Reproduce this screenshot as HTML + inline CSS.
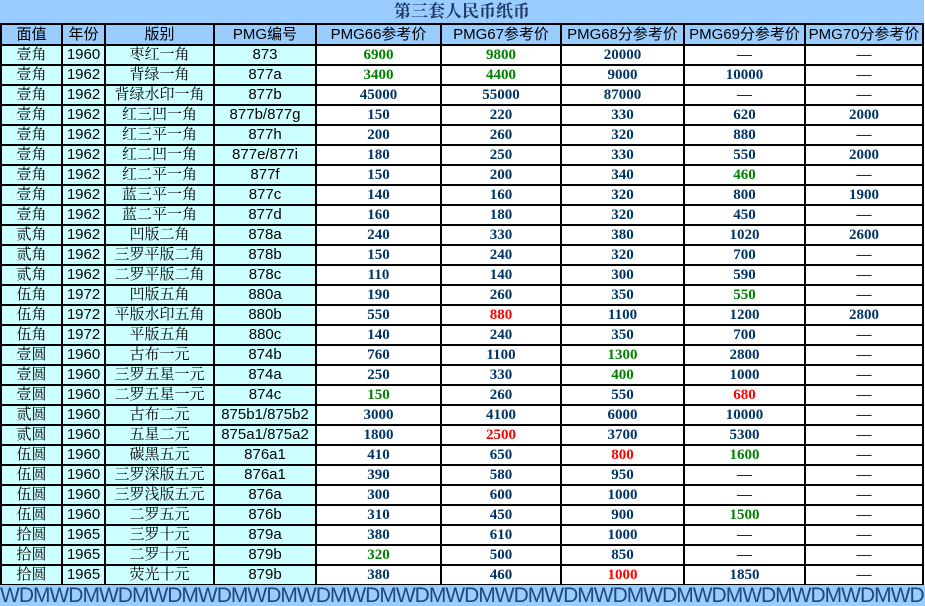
<!DOCTYPE html>
<html><head><meta charset="utf-8"><style>
body{margin:0;background:#fff;width:925px;height:606px;overflow:hidden;position:relative}
.g{position:absolute;left:0;top:0;display:grid;background:#000;padding:0 2px 2px 2px;gap:2px;
grid-template-columns:59px 41px 107px 100px 123px 118px 121px 119px 116px;
grid-template-rows:23px 19px repeat(27,18px)}
.g>div{text-align:center;line-height:18px;white-space:nowrap;overflow:hidden;background:#fff}
.t{grid-column:1/-1;background:#99ccff!important;font:bold 17px "Liberation Serif","Noto Serif CJK SC",serif;color:#1f3864;line-height:23px!important;margin:0 -2px}
.h{background:#99ccff!important;font:15px "Liberation Sans","Noto Sans CJK SC",sans-serif;line-height:19px!important}
.c{background:#ccffff!important;font:15px "Liberation Sans","Noto Serif CJK SC",serif;color:#000}
.n{font:bold 15px "Liberation Serif",serif;color:#003366}
.gr{font:bold 15px "Liberation Serif",serif;color:#008000}
.r{font:bold 15px "Liberation Serif",serif;color:#ff0000}
.band{position:absolute;left:0;top:585px;width:925px;height:21px;background:#99ccff;font:21px "Liberation Sans",sans-serif;color:#1f497d;line-height:22px;white-space:nowrap;overflow:hidden;letter-spacing:-1px}
</style></head><body>
<div class="g">
<div class="t">第三套人民币纸币</div>
<div class="h">面值</div><div class="h">年份</div><div class="h">版别</div><div class="h">PMG编号</div><div class="h">PMG66参考价</div><div class="h">PMG67参考价</div><div class="h">PMG68分参考价</div><div class="h">PMG69分参考价</div><div class="h">PMG70分参考价</div>
<div class="c">壹角</div><div class="c">1960</div><div class="c">枣红一角</div><div class="c">873</div><div class="gr">6900</div><div class="gr">9800</div><div class="n">20000</div><div class="n">—</div><div class="n">—</div>
<div class="c">壹角</div><div class="c">1962</div><div class="c">背绿一角</div><div class="c">877a</div><div class="gr">3400</div><div class="gr">4400</div><div class="n">9000</div><div class="n">10000</div><div class="n">—</div>
<div class="c">壹角</div><div class="c">1962</div><div class="c">背绿水印一角</div><div class="c">877b</div><div class="n">45000</div><div class="n">55000</div><div class="n">87000</div><div class="n">—</div><div class="n">—</div>
<div class="c">壹角</div><div class="c">1962</div><div class="c">红三凹一角</div><div class="c">877b/877g</div><div class="n">150</div><div class="n">220</div><div class="n">330</div><div class="n">620</div><div class="n">2000</div>
<div class="c">壹角</div><div class="c">1962</div><div class="c">红三平一角</div><div class="c">877h</div><div class="n">200</div><div class="n">260</div><div class="n">320</div><div class="n">880</div><div class="n">—</div>
<div class="c">壹角</div><div class="c">1962</div><div class="c">红二凹一角</div><div class="c">877e/877i</div><div class="n">180</div><div class="n">250</div><div class="n">330</div><div class="n">550</div><div class="n">2000</div>
<div class="c">壹角</div><div class="c">1962</div><div class="c">红二平一角</div><div class="c">877f</div><div class="n">150</div><div class="n">200</div><div class="n">340</div><div class="gr">460</div><div class="n">—</div>
<div class="c">壹角</div><div class="c">1962</div><div class="c">蓝三平一角</div><div class="c">877c</div><div class="n">140</div><div class="n">160</div><div class="n">320</div><div class="n">800</div><div class="n">1900</div>
<div class="c">壹角</div><div class="c">1962</div><div class="c">蓝二平一角</div><div class="c">877d</div><div class="n">160</div><div class="n">180</div><div class="n">320</div><div class="n">450</div><div class="n">—</div>
<div class="c">贰角</div><div class="c">1962</div><div class="c">凹版二角</div><div class="c">878a</div><div class="n">240</div><div class="n">330</div><div class="n">380</div><div class="n">1020</div><div class="n">2600</div>
<div class="c">贰角</div><div class="c">1962</div><div class="c">三罗平版二角</div><div class="c">878b</div><div class="n">150</div><div class="n">240</div><div class="n">320</div><div class="n">700</div><div class="n">—</div>
<div class="c">贰角</div><div class="c">1962</div><div class="c">二罗平版二角</div><div class="c">878c</div><div class="n">110</div><div class="n">140</div><div class="n">300</div><div class="n">590</div><div class="n">—</div>
<div class="c">伍角</div><div class="c">1972</div><div class="c">凹版五角</div><div class="c">880a</div><div class="n">190</div><div class="n">260</div><div class="n">350</div><div class="gr">550</div><div class="n">—</div>
<div class="c">伍角</div><div class="c">1972</div><div class="c">平版水印五角</div><div class="c">880b</div><div class="n">550</div><div class="r">880</div><div class="n">1100</div><div class="n">1200</div><div class="n">2800</div>
<div class="c">伍角</div><div class="c">1972</div><div class="c">平版五角</div><div class="c">880c</div><div class="n">140</div><div class="n">240</div><div class="n">350</div><div class="n">700</div><div class="n">—</div>
<div class="c">壹圆</div><div class="c">1960</div><div class="c">古布一元</div><div class="c">874b</div><div class="n">760</div><div class="n">1100</div><div class="gr">1300</div><div class="n">2800</div><div class="n">—</div>
<div class="c">壹圆</div><div class="c">1960</div><div class="c">三罗五星一元</div><div class="c">874a</div><div class="n">250</div><div class="n">330</div><div class="gr">400</div><div class="n">1000</div><div class="n">—</div>
<div class="c">壹圆</div><div class="c">1960</div><div class="c">二罗五星一元</div><div class="c">874c</div><div class="gr">150</div><div class="n">260</div><div class="n">550</div><div class="r">680</div><div class="n">—</div>
<div class="c">贰圆</div><div class="c">1960</div><div class="c">古布二元</div><div class="c">875b1/875b2</div><div class="n">3000</div><div class="n">4100</div><div class="n">6000</div><div class="n">10000</div><div class="n">—</div>
<div class="c">贰圆</div><div class="c">1960</div><div class="c">五星二元</div><div class="c">875a1/875a2</div><div class="n">1800</div><div class="r">2500</div><div class="n">3700</div><div class="n">5300</div><div class="n">—</div>
<div class="c">伍圆</div><div class="c">1960</div><div class="c">碳黑五元</div><div class="c">876a1</div><div class="n">410</div><div class="n">650</div><div class="r">800</div><div class="gr">1600</div><div class="n">—</div>
<div class="c">伍圆</div><div class="c">1960</div><div class="c">三罗深版五元</div><div class="c">876a1</div><div class="n">390</div><div class="n">580</div><div class="n">950</div><div class="n">—</div><div class="n">—</div>
<div class="c">伍圆</div><div class="c">1960</div><div class="c">三罗浅版五元</div><div class="c">876a</div><div class="n">300</div><div class="n">600</div><div class="n">1000</div><div class="n">—</div><div class="n">—</div>
<div class="c">伍圆</div><div class="c">1960</div><div class="c">二罗五元</div><div class="c">876b</div><div class="n">310</div><div class="n">450</div><div class="n">900</div><div class="gr">1500</div><div class="n">—</div>
<div class="c">拾圆</div><div class="c">1965</div><div class="c">三罗十元</div><div class="c">879a</div><div class="n">380</div><div class="n">610</div><div class="n">1000</div><div class="n">—</div><div class="n">—</div>
<div class="c">拾圆</div><div class="c">1965</div><div class="c">二罗十元</div><div class="c">879b</div><div class="gr">320</div><div class="n">500</div><div class="n">850</div><div class="n">—</div><div class="n">—</div>
<div class="c">拾圆</div><div class="c">1965</div><div class="c">荧光十元</div><div class="c">879b</div><div class="n">380</div><div class="n">460</div><div class="r">1000</div><div class="n">1850</div><div class="n">—</div>
</div>
<div class="band">WDMWDMWDMWDMWDMWDMWDMWDMWDMWDMWDMWDMWDMWDMWDMWDMWDMWDMWDMWDM</div>
</body></html>
